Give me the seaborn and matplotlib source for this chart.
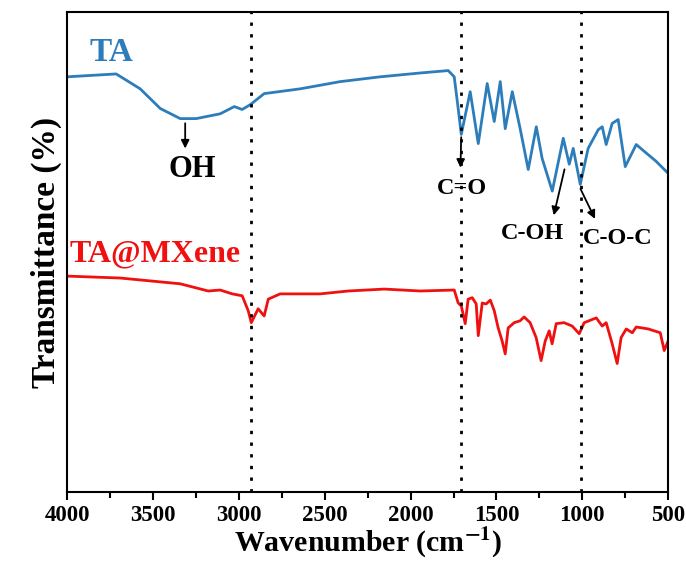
import seaborn as sns
import matplotlib.pyplot as plt
import pandas as pd

# FTIR spectra (arbitrary % scale)
ta_wn = [4000, 3715, 3575, 3458, 3342, 3249, 3109, 3027, 2981, 2934,
         2853, 2643, 2410, 2177, 1944, 1781, 1746, 1723, 1705,
         1653, 1606, 1554, 1513, 1478, 1449, 1408, 1362, 1315, 1268,
         1234, 1175, 1111, 1076, 1053, 1012, 966, 907, 884, 861,
         826, 791, 750, 686, 640, 570, 500]
ta_t = [86.5, 87.1, 84.0, 79.9, 77.8, 77.8, 78.8, 80.3, 79.7, 80.7,
        83.0, 84.0, 85.5, 86.5, 87.3, 87.8, 86.5, 79.9, 74.5,
        83.4, 72.6, 85.1, 77.2, 85.5, 75.7, 83.4, 75.7, 67.2, 76.1,
        69.5, 62.7, 73.7, 68.3, 71.6, 64.1, 71.6, 75.5, 76.1, 72.4,
        76.8, 77.6, 67.8, 72.4, 71.0, 68.9, 66.4]

mx_wn = [4000, 3691, 3342, 3179, 3109, 3039, 2981, 2946, 2928, 2888,
         2853, 2829, 2760, 2527, 2363, 2154, 1944, 1746, 1723, 1705,
         1682, 1665, 1641, 1618, 1606, 1583, 1560, 1536, 1513, 1490,
         1467, 1449, 1432, 1397, 1362, 1339, 1304, 1269, 1240, 1216,
         1193, 1176, 1152, 1106, 1059, 1018, 989, 919, 884, 861,
         826, 797, 774, 744, 709, 686, 616, 546, 523, 500]
mx_t = [45.0, 44.6, 43.4, 41.9, 42.1, 41.3, 40.9, 37.8, 35.3, 38.2,
        36.7, 40.2, 41.3, 41.3, 41.9, 42.3, 41.9, 42.1, 39.4, 38.8,
        35.1, 40.2, 40.5, 39.2, 32.6, 39.4, 39.2, 40.0, 37.8, 34.2,
        31.5, 28.8, 34.2, 35.3, 35.7, 36.5, 35.3, 32.2, 27.4, 31.5,
        33.6, 30.9, 35.1, 35.3, 34.6, 33.0, 35.3, 36.3, 34.6, 35.3,
        30.9, 26.8, 32.2, 34.0, 33.2, 34.4, 34.0, 33.2, 29.5, 31.5]

guide_lines = [2930, 1705, 1010]

sns.set_style('ticks')
plt.rcParams['font.family'] = ['Liberation Serif', 'DejaVu Serif']
plt.rcParams['mathtext.fontset'] = 'stix'
plt.rcParams['text.color'] = 'black'
plt.rcParams['axes.labelcolor'] = 'black'
plt.rcParams['xtick.color'] = 'black'
plt.rcParams['axes.edgecolor'] = 'black'

df = pd.concat([
    pd.DataFrame({'wn': ta_wn, 'T': ta_t, 'sample': 'TA'}),
    pd.DataFrame({'wn': mx_wn, 'T': mx_t, 'sample': 'TA@MXene'}),
])

fig = plt.figure(figsize=(6.86, 5.71), dpi=100)
ax = fig.add_axes([0.098, 0.138, 0.876, 0.841])

sns.lineplot(data=df, x='wn', y='T', hue='sample', sort=False,
             palette={'TA': '#2d7dbb', 'TA@MXene': '#f01010'},
             linewidth=2, legend=False, ax=ax)

for w in guide_lines:
    ax.axvline(w, color='black', linestyle=(0, (1.2, 3)), linewidth=2)

ax.set_xlim(4000, 500)
ax.set_ylim(0, 100)
ax.set_xticks(range(4000, 499, -500))
ax.set_xticks(range(3750, 500, -500), minor=True)
ax.set_yticks([])
ax.tick_params(axis='x', which='major', direction='out', length=6, width=1.5,
               labelsize=16.5, pad=3)
ax.tick_params(axis='x', which='minor', direction='out', length=4, width=1.5)
for lab in ax.get_xticklabels():
    lab.set_fontweight('bold')
for s in ax.spines.values():
    s.set_linewidth(1.5)

ax.set_xlabel('Wavenumber (cm$^{\\mathbf{-1}}$)', fontsize=21.5, fontweight='bold', labelpad=0)
ax.set_ylabel('Transmittance (%)', fontsize=24, fontweight='bold', labelpad=4)

# sample labels
ax.text(3870, 91.5, 'TA', color='#2d7dbb', fontsize=24, fontweight='bold',
        va='center', ha='left')
ax.text(3985, 49.6, 'TA@MXene', color='#f01010', fontsize=23, fontweight='bold',
        va='center', ha='left')

# band assignments
arrow = dict(arrowstyle='-|>', color='black', lw=1.3, mutation_scale=12)
ax.annotate('', xy=(3313, 71.0), xytext=(3313, 77.4), arrowprops=arrow)
ax.text(3272, 67.2, 'OH', fontsize=22, fontweight='bold', ha='center', va='center')

ax.annotate('', xy=(1710, 67.0), xytext=(1705, 74.5), arrowprops=arrow)
ax.text(1700, 63.3, 'C=O', fontsize=17.5, fontweight='bold', ha='center', va='center')

ax.annotate('', xy=(1170, 57.1), xytext=(1100, 67.8), arrowprops=arrow)
ax.text(1290, 53.9, 'C-OH', fontsize=17.5, fontweight='bold', ha='center', va='center')

ax.annotate('', xy=(919, 56.4), xytext=(1018, 63.7), arrowprops=arrow)
ax.text(791, 52.9, 'C-O-C', fontsize=17.5, fontweight='bold', ha='center', va='center')

fig.savefig('out.png', dpi=100)
